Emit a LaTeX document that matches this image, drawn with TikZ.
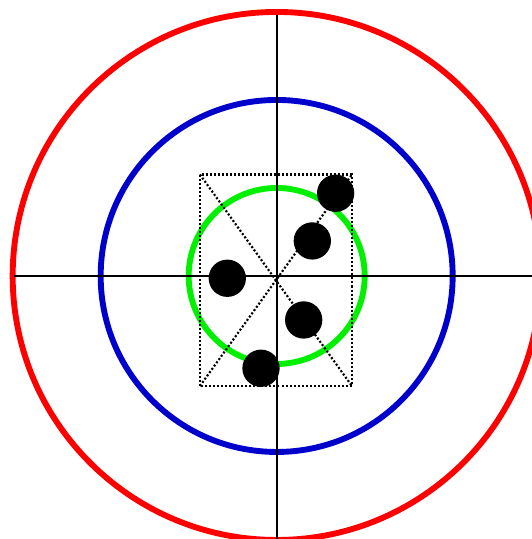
\documentclass[tikz,border=0pt]{standalone}
\usepackage{tikz}
\usetikzlibrary{calc}
\definecolor{cRed}{RGB}{255,0,0}
\definecolor{cBlue}{RGB}{0,0,205}
\definecolor{cGreen}{RGB}{0,240,0}
\tikzset{
	ring/.style={line width=1.9pt},
	axline/.style={line width=0.7pt, draw=black},
	dotbox/.style={line width=0.7pt, dash pattern=on 0.65pt off 0.65pt, draw=black},
	shot/.style={fill=black},
}
\begin{document}
\begin{tikzpicture}
	\useasboundingbox (-3.144,-2.989) rectangle (2.901,3.136);
	\clip (-3.144,-2.989) rectangle (2.901,3.136);
	% rings
	\draw[ring, cRed] (0,0) circle (3.0);
	\draw[ring, cBlue] (0,0) circle (2.0);
	\draw[ring, cGreen] (0,0) circle (1.0);
	% axes
	\draw[axline] (-2.99,0) -- (3.1,0);
	\draw[axline] (0,2.97) -- (0,-3.1);
	% spread box
	\coordinate (bl) at (-0.872,-1.250);
	\coordinate (tr) at (0.855,1.153);
	\draw[dotbox] (bl) rectangle (tr);
	\draw[dotbox] (bl |- tr) -- (tr |- bl);
	\draw[dotbox] (bl) -- (tr);
	% shots
	\foreach \x/\y in {0.670/0.940, 0.405/0.398, -0.561/-0.026, 0.307/-0.5, -0.178/-1.049}{
		\fill[shot] (\x,\y) circle (0.212);
	}
\end{tikzpicture}
\end{document}
